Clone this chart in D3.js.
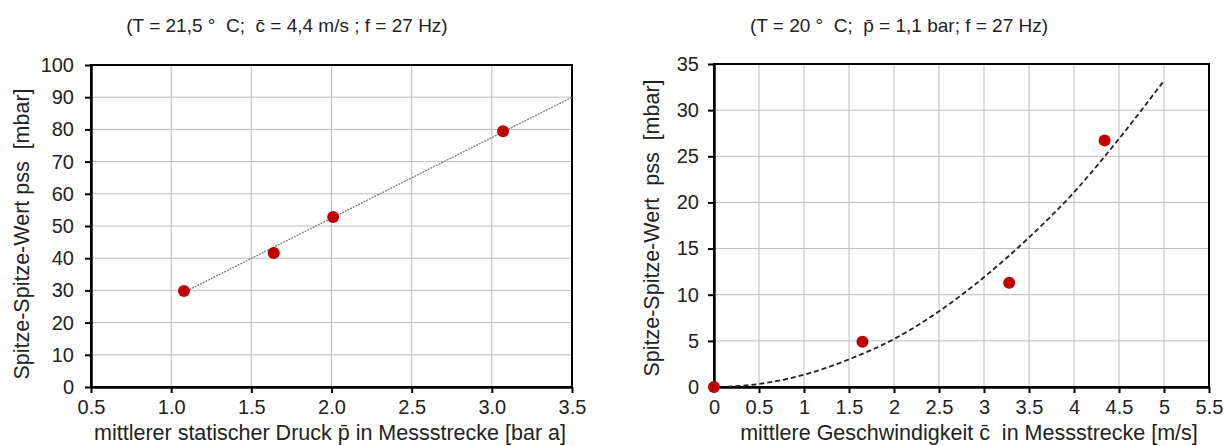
<!DOCTYPE html>
<html>
<head>
<meta charset="utf-8">
<script src="https://cdn.jsdelivr.net/npm/d3@7"></script>
<style>
  body { margin: 0; background: #fff; }
  svg { font-family: "Liberation Sans", Arial, sans-serif; }
  text { white-space: pre; fill: #222; }
  .grid line { stroke: #bdbdbd; stroke-width: 1px; }
  .axis path, .axis line { stroke: #000; }
  .axis text { font-size: 20px; fill: #222; font-family: "Liberation Sans", Arial, sans-serif; }
</style>
</head>
<body>
<div id="chart-area"></div>
<script>
// Left chart data: pressure series
let pressureX = [1.08, 1.64, 2.01, 3.07]
let pressureY = [29.8, 41.6, 52.8, 79.4]
let pressureTrendX = [1.08, 3.5]
let pressureTrendY = [29.4, 90.0]
let pressureXTicks = [0.5, 1.0, 1.5, 2.0, 2.5, 3.0, 3.5]
let pressureYTicks = [0, 10, 20, 30, 40, 50, 60, 70, 80, 90, 100]

// Right chart data: speed series
let speedX = [0, 1.65, 3.28, 4.34]
let speedY = [0, 4.9, 11.3, 26.7]
let speedTrendX = [0.15, 0.5, 1.0, 1.5, 2.0, 2.5, 3.0, 3.5, 4.0, 4.5, 5.0]
let speedTrendY = [0.03, 0.33, 1.33, 3.0, 5.2, 8.2, 11.9, 16.2, 21.1, 26.9, 33.2]
let speedXTicks = [0, 0.5, 1, 1.5, 2, 2.5, 3, 3.5, 4, 4.5, 5, 5.5]
let speedYTicks = [0, 5, 10, 15, 20, 25, 30, 35]

let svg = d3.select('#chart-area').append('svg')
  .attr('width', 1225)
  .attr('height', 446)

function drawChart(opt) {
  let width = opt.right - opt.left
  let height = opt.bottom - opt.top

  let g = svg.append('g')
    .attr('transform', 'translate(' + opt.left + ', ' + opt.top + ')')

  let x = d3.scaleLinear().domain(d3.extent(opt.xTicks)).range([0, width])
  let y = d3.scaleLinear().domain(d3.extent(opt.yTicks)).range([height, 0])

  // grid
  let grid = g.append('g').attr('class', 'grid')
  grid.selectAll('.vx').data(opt.xTicks).enter().append('line')
    .attr('x1', d => x(d)).attr('x2', d => x(d))
    .attr('y1', 0).attr('y2', height)
  grid.selectAll('.hy').data(opt.yTicks).enter().append('line')
    .attr('x1', 0).attr('x2', width)
    .attr('y1', d => y(d)).attr('y2', d => y(d))

  // frame top / right
  g.append('rect')
    .attr('width', width).attr('height', height)
    .attr('fill', 'none').attr('stroke', '#000').attr('stroke-width', 2)

  // axes
  g.append('g')
    .attr('class', 'x axis')
    .attr('transform', 'translate(0, ' + height + ')')
    .call(d3.axisBottom(x).tickValues(opt.xTicks).tickFormat(opt.xFormat).tickSize(6).tickSizeOuter(0).tickPadding(7))
  g.append('g')
    .attr('class', 'y axis')
    .call(d3.axisLeft(y).tickValues(opt.yTicks).tickFormat(d3.format('d')).tickSize(6).tickSizeOuter(0).tickPadding(opt.yPad))
  g.selectAll('.axis path').attr('stroke-width', 2.5)
  g.selectAll('.axis line').attr('stroke-width', 2)

  // trend line
  let line = d3.line()
    .x(d => x(d[0]))
    .y(d => y(d[1]))
    .curve(d3.curveMonotoneX)
  g.append('path')
    .attr('fill', 'none')
    .attr('stroke', opt.trendColor)
    .attr('stroke-width', opt.trendWidth)
    .attr('stroke-dasharray', opt.trendDash)
    .attr('d', line(d3.zip(opt.trendX, opt.trendY)))

  // points
  g.selectAll('.pt').data(d3.zip(opt.xs, opt.ys)).enter().append('circle')
    .attr('cx', d => x(d[0]))
    .attr('cy', d => y(d[1]))
    .attr('r', 6)
    .attr('fill', '#c00000')

  // title
  svg.append('text')
    .attr('x', opt.titleX).attr('y', 32)
    .attr('text-anchor', 'middle')
    .style('font-size', '19px')
    .text(opt.title)

  // x axis title
  svg.append('text')
    .attr('x', opt.xTitleX).attr('y', 440)
    .attr('text-anchor', 'middle')
    .style('font-size', '21.5px')
    .text(opt.xTitle)

  // y axis title
  svg.append('text')
    .attr('transform', 'translate(' + opt.yTitleX + ', ' + opt.yTitleY + ') rotate(-90)')
    .attr('text-anchor', 'middle')
    .style('font-size', '21.5px')
    .text(opt.yTitle)
}

drawChart({
  left: 91, right: 572, top: 65, bottom: 387,
  xTicks: pressureXTicks, yTicks: pressureYTicks,
  xFormat: d3.format('.1f'), yPad: 11,
  xs: pressureX, ys: pressureY,
  trendX: pressureTrendX, trendY: pressureTrendY,
  trendColor: '#777', trendWidth: 1.2, trendDash: '2,1',
  title: '(T = 21,5 °  C;  c\u0304 = 4,4 m/s ; f = 27 Hz)',
  titleX: 287,
  xTitle: 'mittlerer statischer Druck p\u0304 in Messstrecke [bar a]',
  xTitleX: 330,
  yTitle: 'Spitze-Spitze-Wert pss  [mbar]',
  yTitleX: 29, yTitleY: 234
})

drawChart({
  left: 714, right: 1209, top: 64, bottom: 387,
  xTicks: speedXTicks, yTicks: speedYTicks,
  xFormat: d3.format(''), yPad: 9,
  xs: speedX, ys: speedY,
  trendX: speedTrendX, trendY: speedTrendY,
  trendColor: '#222', trendWidth: 1.8, trendDash: '5,3',
  title: '(T = 20 °  C;  p\u0304 = 1,1 bar; f = 27 Hz)',
  titleX: 899,
  xTitle: 'mittlere Geschwindigkeit c\u0304  in Messstrecke [m/s]',
  xTitleX: 969,
  yTitle: 'Spitze-Spitze-Wert  pss  [mbar]',
  yTitleX: 659, yTitleY: 228
})
</script>
</body>
</html>
